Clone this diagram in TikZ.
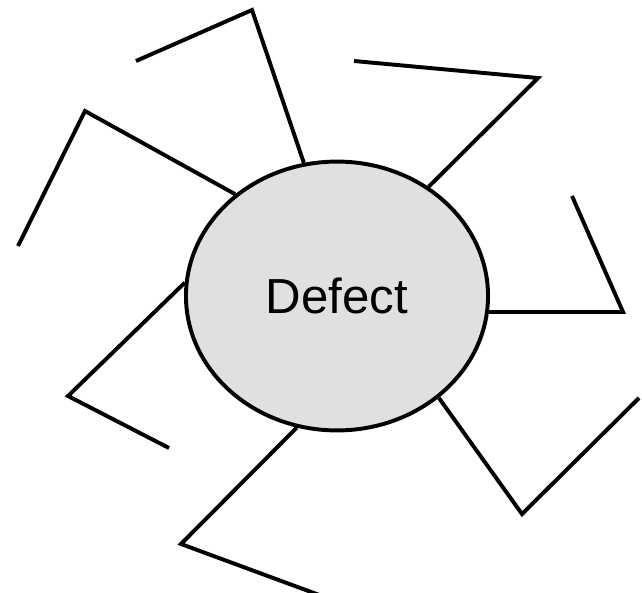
\documentclass[tikz,border=0pt]{standalone}
\usepackage{fontspec}
\setmainfont{Liberation Sans}
\usetikzlibrary{shapes.geometric}
\tikzset{
  arm/.style={line width=2.8pt,line join=miter},
  defectbox/.style={ellipse,draw,line width=2.8pt,fill=black!12,inner sep=0pt,
    minimum width=7.55cm,minimum height=6.72cm,font=\fontsize{35}{38}\selectfont}
}
\begin{document}
\begin{tikzpicture}[x=0.025cm,y=-0.025cm]
\useasboundingbox (0,0) rectangle (642,592);
\node [defectbox] (defect) at (337,296) {\raisebox{-1.5pt}{Defect}};
\coordinate (ca) at (252,10);  \coordinate (ea) at (136,61);
\coordinate (cb) at (85,111);  \coordinate (eb) at (18,246);
\coordinate (cc) at (538,78);  \coordinate (ec) at (354,61);
\coordinate (cd) at (623,312); \coordinate (ed) at (572,196);
\coordinate (cg) at (522,514); \coordinate (eg) at (639,398);
\coordinate (cf) at (181,544); \coordinate (ef) at (322,596);
\coordinate (ce) at (68,396);  \coordinate (ee) at (169,448);
\draw [arm] (defect.104) -- (ca) -- (ea);
\draw [arm] (defect.135) -- (cb) -- (eb);
\draw [arm] (defect.50) -- (cc) -- (ec);
\draw [arm] (defect.-6) -- (cd) -- (ed);
\draw [arm] (defect.-45) -- (cg) -- (eg);
\draw [arm] (defect.-107) -- (cf) -- (ef);
\draw [arm] (defect.175) -- (ce) -- (ee);
\end{tikzpicture}
\end{document}
